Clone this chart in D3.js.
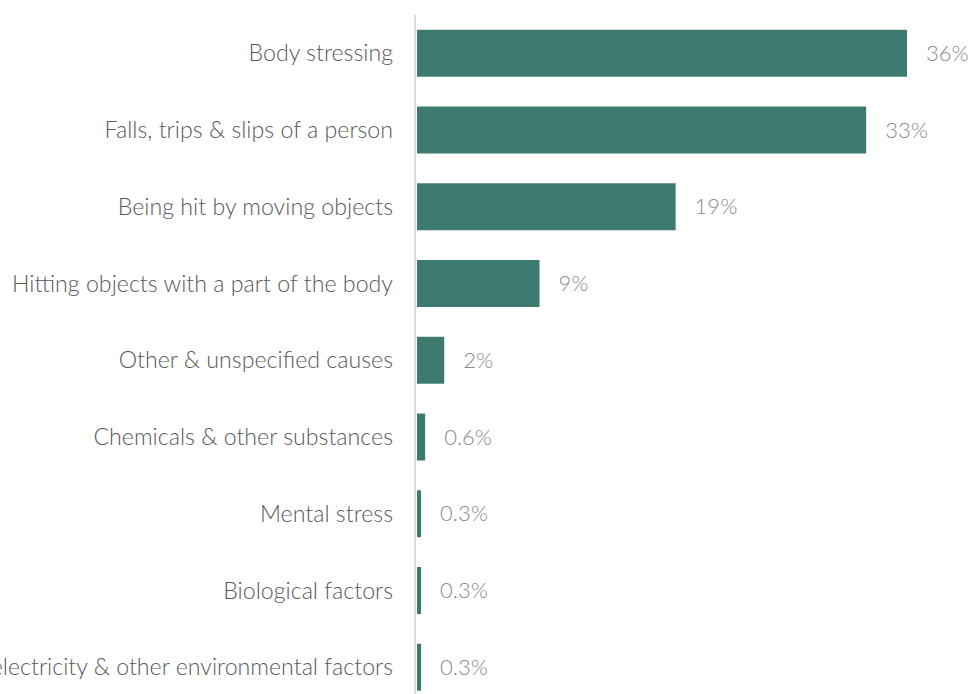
<!DOCTYPE html>
<html>
<head>
<meta charset="utf-8">
<script src="https://cdn.jsdelivr.net/npm/d3@7"></script>
<style>
  html, body { margin: 0; padding: 0; background: #ffffff; }
  svg { display: block; }
  text { font-family: Lato, "Open Sans", sans-serif; font-weight: 300; }
</style>
</head>
<body>
<svg id="chart" width="976" height="694"></svg>
<script>
// Mechanism of incident, share of serious claims (%)
const causes = [
  "Body stressing",
  "Falls, trips & slips of a person",
  "Being hit by moving objects",
  "Hitting objects with a part of the body",
  "Other & unspecified causes",
  "Chemicals & other substances",
  "Mental stress",
  "Biological factors",
  "Heat, electricity & other environmental factors"
];
const shares = [36, 33, 19, 9, 2, 0.6, 0.3, 0.3, 0.3];
const shareLabels = ["36%", "33%", "19%", "9%", "2%", "0.6%", "0.3%", "0.3%", "0.3%"];

const width = 976, height = 694;
const x0 = 417;               // left edge of the bars
const svg = d3.select("#chart");

const x = d3.scaleLinear().domain([0, 36]).range([x0, x0 + 490]);
const y = d3.scaleBand().domain(causes).range([0, 720.5]).padding(0.388);

const rows = causes.map((c, i) => ({ cause: c, value: shares[i], label: shareLabels[i] }));

// bars
svg.append("g").selectAll("rect").data(rows).join("rect")
  .attr("x", x(0))
  .attr("y", d => y(d.cause))
  .attr("width", d => x(d.value) - x(0))
  .attr("height", y.bandwidth())
  .attr("fill", "#3d7a70");

// vertical baseline
svg.append("line")
  .attr("x1", 415).attr("x2", 415)
  .attr("y1", 15).attr("y2", height)
  .attr("stroke", "#dcdcdc").attr("stroke-width", 2);

// category labels (right-aligned against the baseline; long ones run off the left edge)
svg.append("g").selectAll("text").data(rows).join("text")
  .attr("x", 393)
  .attr("y", d => y(d.cause) + y.bandwidth() / 2)
  .attr("dy", "0.35em")
  .attr("text-anchor", "end")
  .attr("font-size", 23.2)
  .attr("fill", "#595959")
  .text(d => d.cause);

// value labels
svg.append("g").selectAll("text").data(rows).join("text")
  .attr("x", d => x(d.value) + 19)
  .attr("y", d => y(d.cause) + y.bandwidth() / 2)
  .attr("dy", "0.35em")
  .attr("font-size", 22)
  .attr("fill", "#8a8a8a")
  .text(d => d.label);
</script>
</body>
</html>
